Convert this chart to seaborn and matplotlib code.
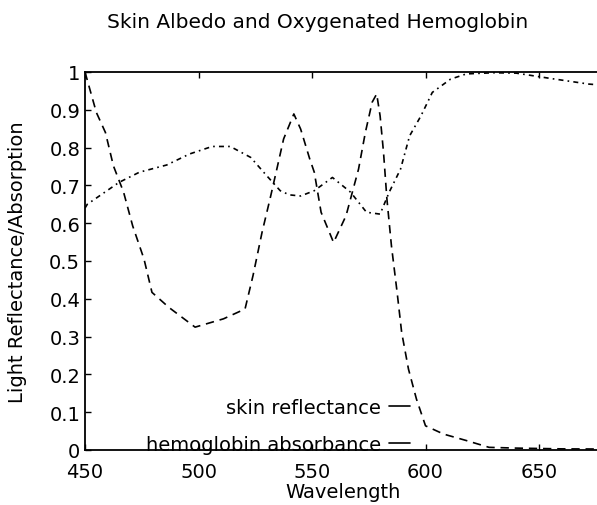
import matplotlib
matplotlib.use("Agg")
import matplotlib.pyplot as plt
import pandas as pd
import seaborn as sns
from matplotlib.lines import Line2D


# Skin reflectance
skin_wl = [450, 451, 465, 474, 486, 496, 506, 514, 523, 530, 536, 540, 545, 551,
           559, 567, 574, 580, 584, 589, 593, 598, 603, 611, 618, 630, 640, 655,
           672, 700]
skin_val = [0.64, 0.65, 0.708, 0.735, 0.754, 0.783, 0.803, 0.803, 0.774, 0.726,
            0.686, 0.675, 0.672, 0.686, 0.721, 0.682, 0.629, 0.624, 0.682, 0.743,
            0.831, 0.884, 0.946, 0.981, 0.995, 0.998, 0.997, 0.983, 0.968, 0.955]

# Oxygenated hemoglobin absorbance
hemo_wl = [450, 455, 459, 462.5, 467, 471, 476, 479.5, 487, 498.5, 511, 520.5,
           524, 528, 531.5, 534.5, 537.5, 542, 545, 549, 551, 554, 559.5, 565,
           570.5, 573.5, 576.5, 578.5, 580, 581.5, 583, 585, 587.5, 589.5, 592.5,
           596, 600, 608, 618, 628, 640, 660, 700]
hemo_val = [1.0, 0.893, 0.84, 0.752, 0.682, 0.593, 0.505, 0.417, 0.377, 0.325,
            0.347, 0.373, 0.461, 0.576, 0.664, 0.743, 0.823, 0.889, 0.849, 0.77,
            0.735, 0.629, 0.549, 0.62, 0.743, 0.84, 0.92, 0.942, 0.884, 0.788,
            0.664, 0.54, 0.417, 0.311, 0.214, 0.135, 0.064, 0.042, 0.025, 0.007,
            0.005, 0.003, 0.002]

x_ticks = [450, 500, 550, 600, 650]
y_ticks = [0, 0.1, 0.2, 0.3, 0.4, 0.5, 0.6, 0.7, 0.8, 0.9, 1]
y_tick_labels = ["0", "0.1", "0.2", "0.3", "0.4", "0.5", "0.6", "0.7", "0.8", "0.9", "1"]

skin_df = pd.DataFrame({"wavelength": skin_wl, "value": skin_val})
hemo_df = pd.DataFrame({"wavelength": hemo_wl, "value": hemo_val})

sns.set_style("ticks")
plt.rcParams["font.family"] = ["DejaVu Sans"]
plt.rcParams.update({"text.color": "black", "axes.edgecolor": "black",
                     "xtick.color": "black", "ytick.color": "black",
                     "axes.labelcolor": "black"})

W, H = 597, 506
fig = plt.figure(figsize=(W / 100, H / 100), dpi=100)
# axes run past the right edge, like the cropped original
ax = fig.add_axes([85 / W, 55 / H, 567.5 / W, 378 / H])

sns.lineplot(data=skin_df, x="wavelength", y="value", ax=ax, color="black",
             linewidth=1.2, linestyle=(0, (3, 2.5, 1, 2.5)))
sns.lineplot(data=hemo_df, x="wavelength", y="value", ax=ax, color="black",
             linewidth=1.2, linestyle=(0, (5, 3.5)))

ax.set_xlim(450, 700)
ax.set_ylim(0, 1)
ax.set_xticks(x_ticks)
ax.set_yticks(y_ticks)
ax.set_yticklabels(y_tick_labels)
ax.set_xlabel("")
ax.set_ylabel("")
ax.tick_params(direction="in", length=4, width=1, labelsize=14, top=True, right=True)
ax.tick_params(axis="x", pad=9)
for s in ax.spines.values():
    s.set_linewidth(1.3)

fig.text(318 / W, 1 - 22 / H, "Skin Albedo and Oxygenated Hemoglobin",
         ha="center", va="center", fontsize=14.5)
fig.text(343 / W, 1 - 493 / H, "Wavelength", ha="center", va="center", fontsize=14)
fig.text(18 / W, 1 - 262 / H, "Light Reflectance/Absorption", ha="center",
         va="center", rotation=90, fontsize=14)

handles = [Line2D([], [], color="black", lw=1.2), Line2D([], [], color="black", lw=1.2)]
ax.legend(handles, ["skin reflectance", "hemoglobin absorbance"],
          loc="lower right", bbox_to_anchor=(410 / W, 1 - 455 / H),
          bbox_transform=fig.transFigure, frameon=False, markerfirst=False,
          fontsize=14, handlelength=1.1, handletextpad=0.4, labelspacing=0.95,
          borderpad=0, borderaxespad=0)

fig.savefig("out.png", dpi=100)
